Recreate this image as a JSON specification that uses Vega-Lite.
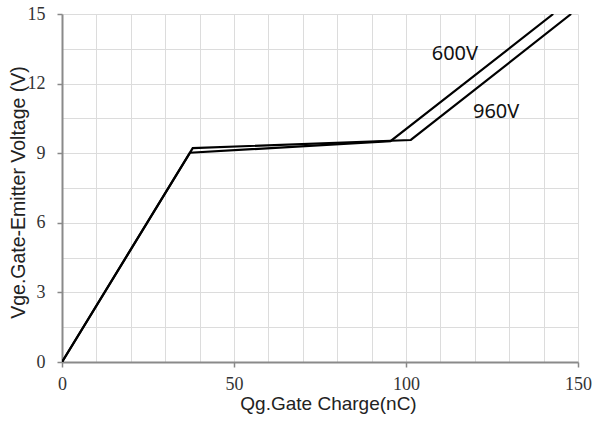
{
  "$schema": "https://vega.github.io/schema/vega-lite/v6.json",
  "width": 516,
  "height": 348,
  "autosize": "none",
  "padding": {"left": 62, "top": 14, "right": 18, "bottom": 63},
  "background": "white",
  "config": {"view": {"stroke": null}},
  "datasets": {
    "curves": [
      {"series": "600V", "qg": 0, "vge": 0},
      {"series": "600V", "qg": 37.2, "vge": 9.02},
      {"series": "600V", "qg": 95.5, "vge": 9.52},
      {"series": "600V", "qg": 142.8, "vge": 15},
      {"series": "960V", "qg": 0, "vge": 0},
      {"series": "960V", "qg": 38.0, "vge": 9.22},
      {"series": "960V", "qg": 101.4, "vge": 9.57},
      {"series": "960V", "qg": 148.0, "vge": 15}
    ],
    "labels": [
      {"text": "600V", "qg": 114.2, "vge": 13.28},
      {"text": "960V", "qg": 126.2, "vge": 10.78}
    ]
  },
  "encoding": {
    "x": {
      "field": "qg", "type": "quantitative",
      "scale": {"domain": [0, 150], "nice": false, "zero": false},
      "axis": {
        "values": [0,10,20,30,40,50,60,70,80,90,100,110,120,130,140,150],
        "labelExpr": "datum.value % 50 == 0 ? datum.label : ''",
        "labelOverlap": false, "labelBound": false, "labelFlush": false,
        "title": "Qg.Gate Charge(nC)",
        "titleFont": "Liberation Sans", "titleFontSize": 19, "titleFontWeight": "normal", "titleColor": "#222",
        "titleBaseline": "alphabetic", "titleX": 266, "titleY": 47,
        "labelFont": "Liberation Serif", "labelFontSize": 18, "labelColor": "#333",
        "labelPadding": 8,
        "tickSize": 5, "tickColor": "#888", "tickWidth": 1.5,
        "tickOpacity": {"condition": {"test": "datum.value % 50 != 0", "value": 0}, "value": 1},
        "domainColor": "#8a8a8a", "domainWidth": 2,
        "grid": true, "gridColor": "#dcdcdc", "gridWidth": 1
      }
    },
    "y": {
      "field": "vge", "type": "quantitative",
      "scale": {"domain": [0, 15], "nice": false},
      "axis": {
        "values": [0,1.5,3,4.5,6,7.5,9,10.5,12,13.5,15],
        "labelExpr": "datum.value % 3 == 0 ? datum.label : ''",
        "labelOverlap": false, "labelBound": false, "labelFlush": false,
        "title": "Vge.Gate-Emitter Voltage (V)",
        "titleFont": "Liberation Sans", "titleFontSize": 19.5, "titleFontWeight": "normal", "titleColor": "#222",
        "titleBaseline": "alphabetic", "titleAngle": -90, "titleX": -38, "titleY": 178,
        "labelFont": "Liberation Serif", "labelFontSize": 18, "labelColor": "#333",
        "labelPadding": 12,
        "tickSize": 5, "tickColor": "#888", "tickWidth": 1.5,
        "tickOpacity": {"condition": {"test": "datum.value % 3 != 0", "value": 0}, "value": 1},
        "domainColor": "#8a8a8a", "domainWidth": 2,
        "grid": true, "gridColor": "#dcdcdc", "gridWidth": 1
      }
    }
  },
  "layer": [
    {
      "data": {"name": "curves"},
      "mark": {"type": "line", "color": "black", "strokeWidth": 2.2, "clip": true},
      "encoding": {
        "detail": {"field": "series"}
      }
    },
    {
      "data": {"name": "labels"},
      "mark": {"type": "text", "font": "Noto Sans", "fontSize": 20, "color": "#111", "align": "center", "baseline": "middle"},
      "encoding": {
        "text": {"field": "text"}
      }
    }
  ]
}
